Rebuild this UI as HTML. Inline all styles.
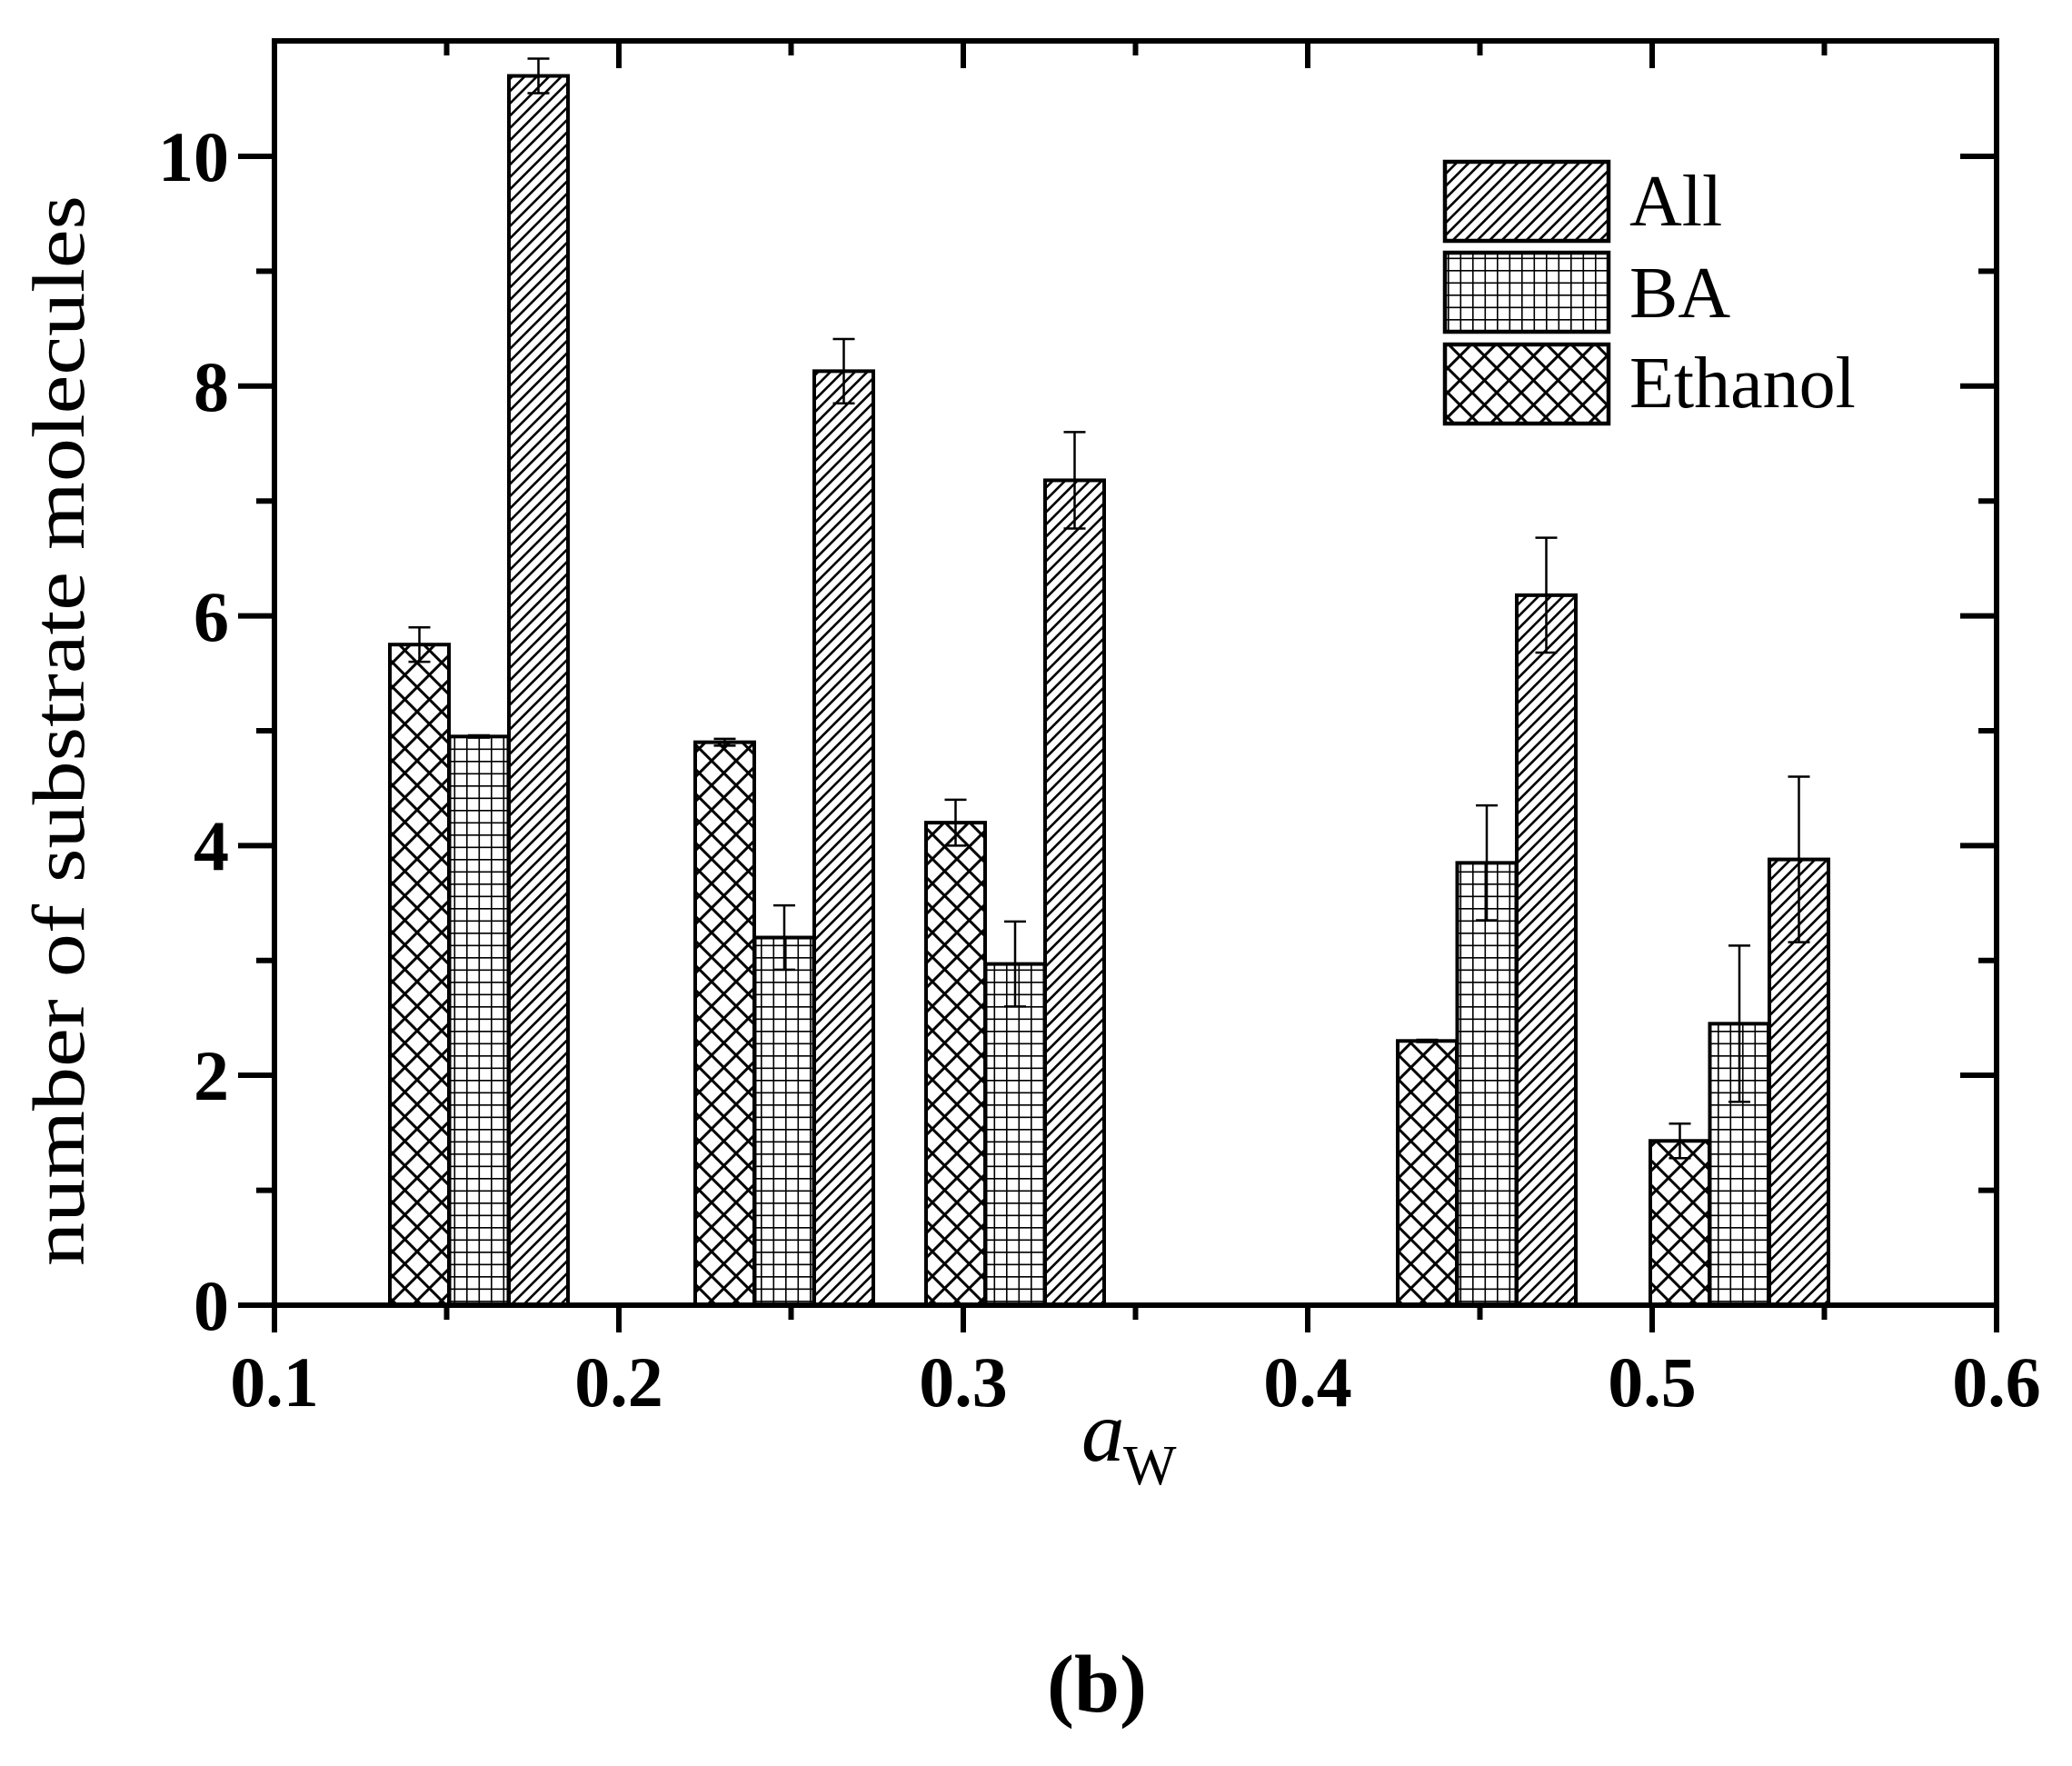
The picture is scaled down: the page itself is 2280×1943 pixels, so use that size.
<!DOCTYPE html>
<html><head><meta charset="utf-8"><style>html,body{margin:0;padding:0;background:#fff}svg{display:block}</style></head>
<body>
<svg width="2280" height="1943" viewBox="0 0 2280 1943" xmlns="http://www.w3.org/2000/svg">
<defs>
<pattern id="diag" patternUnits="userSpaceOnUse" width="13.5" height="13.5">
<path d="M-2,15.5 L15.5,-2 M-2,2 L2,-2 M11.5,15.5 L15.5,11.5" stroke="#000" stroke-width="2.6"/>
</pattern>
<pattern id="grid" patternUnits="userSpaceOnUse" width="13.5" height="13.5">
<path d="M0,0 V13.5 M0,0 H13.5" stroke="#000" stroke-width="3.2"/>
</pattern>
<pattern id="cross" patternUnits="userSpaceOnUse" width="27" height="27">
<path d="M0,0 L27,27 M27,0 L0,27" stroke="#000" stroke-width="3"/>
</pattern>
</defs>
<g id="bars" stroke="#000" stroke-width="4">
</g>
<script>
(function(){
var y0=1436,u=126.4;
var g=document.getElementById('bars');
var ns='http://www.w3.org/2000/svg';
var data=[
[429,[5.75,0.15],[4.95,0.01],[10.7,0.15]],
[765,[4.9,0.03],[3.2,0.28],[8.13,0.28]],
[1019,[4.2,0.2],[2.97,0.37],[7.18,0.42]],
[1538,[2.3,0.01],[3.85,0.5],[6.18,0.5]],
[1816,[1.43,0.15],[2.45,0.68],[3.88,0.72]]];
var pats=['cross','grid','diag'];
data.forEach(function(d){
 for(var i=0;i<3;i++){
  var x=d[0]+i*65.5,v=d[i+1][0],e=d[i+1][1];
  var r=document.createElementNS(ns,'rect');
  r.setAttribute('x',x);r.setAttribute('y',y0-v*u);r.setAttribute('width',65);r.setAttribute('height',v*u);
  r.setAttribute('fill','url(#'+pats[i]+')');g.appendChild(r);
  var cx=x+32.5,t=y0-(v+e)*u,b=y0-(v-e)*u;
  var p=document.createElementNS(ns,'path');
  p.setAttribute('d','M'+cx+','+t+'V'+b+'M'+(cx-12)+','+t+'H'+(cx+12)+'M'+(cx-12)+','+b+'H'+(cx+12));
  p.setAttribute('stroke-width','2.5');p.setAttribute('fill','none');g.appendChild(p);
 }
});
})();
</script>
<!-- axes -->
<g stroke="#000" stroke-width="6" fill="none" stroke-linecap="butt">
<rect x="302" y="45" width="1895" height="1391"/>
<!-- left major ticks outward -->
<path d="M262,1436H302 M262,1183H302 M262,930.4H302 M262,677.6H302 M262,424.8H302 M262,172H302"/>
<!-- left minor -->
<path d="M282,1309.6H302 M282,1056.8H302 M282,804H302 M282,551.2H302 M282,298.4H302"/>
<!-- right ticks inward -->
<path d="M2157,1183H2197 M2157,930.4H2197 M2157,677.6H2197 M2157,424.8H2197 M2157,172H2197"/>
<path d="M2177,1309.6H2197 M2177,1056.8H2197 M2177,804H2197 M2177,551.2H2197 M2177,298.4H2197"/>
<!-- bottom ticks outward -->
<path d="M302,1436V1466 M681,1436V1466 M1060,1436V1466 M1439,1436V1466 M1818,1436V1466 M2197,1436V1466"/>
<path d="M491.5,1436V1452 M870.5,1436V1452 M1249.5,1436V1452 M1628.5,1436V1452 M2007.5,1436V1452"/>
<!-- top ticks inward -->
<path d="M681,45V75 M1060,45V75 M1439,45V75 M1818,45V75"/>
<path d="M491.5,45V61 M870.5,45V61 M1249.5,45V61 M1628.5,45V61 M2007.5,45V61"/>
</g>
<g font-family="Liberation Serif, serif" font-weight="bold" font-size="78" fill="#000">
<g text-anchor="end">
<text x="252" y="1463">0</text>
<text x="252" y="1210">2</text>
<text x="252" y="957">4</text>
<text x="252" y="705">6</text>
<text x="252" y="452">8</text>
<text x="252" y="199">10</text>
</g>
<g text-anchor="middle">
<text x="302" y="1547">0.1</text>
<text x="681" y="1547">0.2</text>
<text x="1060" y="1547">0.3</text>
<text x="1439" y="1547">0.4</text>
<text x="1818" y="1547">0.5</text>
<text x="2197" y="1547">0.6</text>
</g>
<text x="1207" y="1883" text-anchor="middle" font-size="90">(b)</text>
</g>
<g font-family="Liberation Serif, serif" fill="#000">
<text transform="translate(92,804) rotate(-90)" text-anchor="middle" font-size="82" textLength="1178" lengthAdjust="spacingAndGlyphs">number of substrate molecules</text>
<text x="1190" y="1607" font-style="italic" font-size="95">a</text>
<text x="1236" y="1633" font-size="62">W</text>
<text x="1793" y="248" font-size="80">All</text>
<text x="1793" y="349" font-size="80">BA</text>
<text x="1793" y="448" font-size="80">Ethanol</text>
</g>
<g stroke="#000" stroke-width="4.5">
<rect x="1590" y="178" width="180" height="87" fill="url(#diag)"/>
<rect x="1590" y="278" width="180" height="87" fill="url(#grid)"/>
<rect x="1590" y="379" width="180" height="87" fill="url(#cross)"/>
</g>
</svg>
</body></html>
